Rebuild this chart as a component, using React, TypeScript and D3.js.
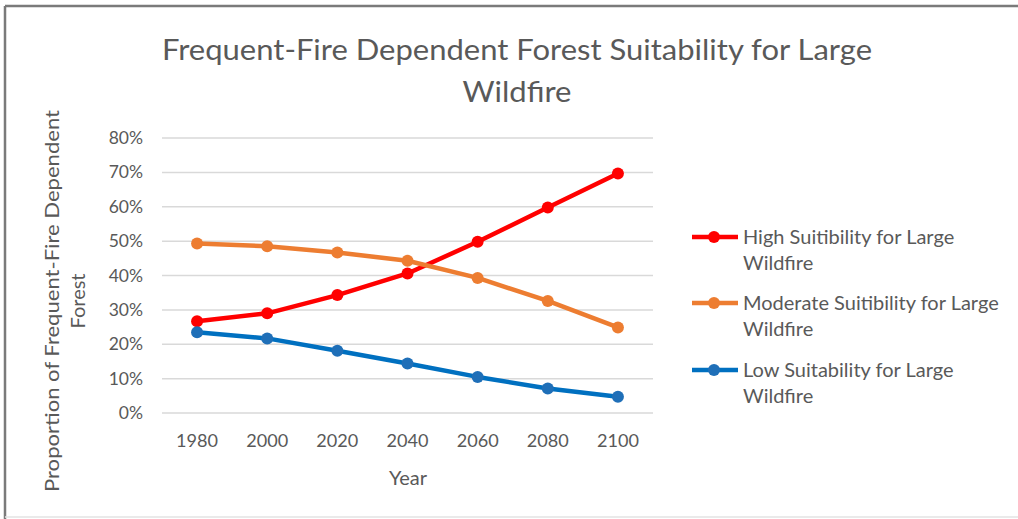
import React from "react";
import * as d3 from "d3";

const years = ["1980", "2000", "2020", "2040", "2060", "2080", "2100"];
const highValues = [0.267, 0.29, 0.343, 0.406, 0.498, 0.598, 0.697];
const moderateValues = [0.493, 0.485, 0.467, 0.443, 0.393, 0.326, 0.249];
const lowValues = [0.235, 0.217, 0.181, 0.144, 0.105, 0.071, 0.047];
const yTicks = [0, 0.1, 0.2, 0.3, 0.4, 0.5, 0.6, 0.7, 0.8];
const seriesNames = [
  ["High Suitibility for Large", "Wildfire"],
  ["Moderate Suitibility for Large", "Wildfire"],
  ["Low Suitability for Large", "Wildfire"],
];
const seriesColors = ["#FF0000", "#ED7D31", "#0070C0"];
const markerColors = ["#FF0000", "#ED7D31", "#1F6FB8"];

const W = 1018;
const H = 519;
const FONT = "Lato, 'Open Sans', sans-serif";
const TEXT = "#595959";

export default function App() {
  const x = d3.scaleBand().domain(years).range([162, 653]);
  const y = d3.scaleLinear().domain([0, 0.8]).range([413, 138]);
  const cx = (i: number) => (x(years[i]) as number) + x.bandwidth() / 2;
  const line = d3
    .line<number>()
    .x((_, i) => cx(i))
    .y((d) => y(d));
  const series = [highValues, moderateValues, lowValues];
  const legendY = [237, 303, 370];

  return (
    <svg
      width={W}
      height={H}
      style={{ position: "absolute", left: 0, top: 0, background: "#fff" }}
    >
      <rect x={0} y={0} width={W} height={H} fill="#fff" />
      <line x1={5} y1={6} x2={W} y2={6} stroke="#7a7a7a" strokeWidth={2.5} />
      <line x1={5} y1={6} x2={5} y2={H} stroke="#7a7a7a" strokeWidth={2.5} />
      <line x1={5} y1={517} x2={W} y2={517} stroke="#e3e3e3" strokeWidth={1.5} />

      <text
        x={517}
        y={60}
        textAnchor="middle"
        fontFamily={FONT}
        fontSize={28}
        fill={TEXT}
        textLength={710}
        lengthAdjust="spacingAndGlyphs"
      >
        Frequent-Fire Dependent Forest Suitability for Large
      </text>
      <text
        x={517}
        y={102}
        textAnchor="middle"
        fontFamily={FONT}
        fontSize={28}
        fill={TEXT}
        textLength={109}
        lengthAdjust="spacingAndGlyphs"
      >
        Wildfire
      </text>

      {yTicks.map((t) => (
        <g key={t}>
          <line x1={162} x2={653} y1={y(t)} y2={y(t)} stroke="#d9d9d9" strokeWidth={1.5} />
          <text
            x={143}
            y={y(t) + 6}
            textAnchor="end"
            fontFamily={FONT}
            fontSize={17.5}
            fill={TEXT}
          >
            {d3.format(".0%")(t)}
          </text>
        </g>
      ))}

      {years.map((yr, i) => (
        <text
          key={yr}
          x={cx(i)}
          y={447}
          textAnchor="middle"
          fontFamily={FONT}
          fontSize={17}
          fill={TEXT}
          textLength={42}
          lengthAdjust="spacingAndGlyphs"
        >
          {yr}
        </text>
      ))}
      <text x={408} y={485} textAnchor="middle" fontFamily={FONT} fontSize={20} fill={TEXT}>
        Year
      </text>
      <g transform="translate(0,301) rotate(-90)">
        <text
          x={0}
          y={59}
          textAnchor="middle"
          fontFamily={FONT}
          fontSize={20}
          fill={TEXT}
          textLength={382}
          lengthAdjust="spacingAndGlyphs"
        >
          Proportion of Frequent-Fire Dependent
        </text>
        <text x={0} y={85} textAnchor="middle" fontFamily={FONT} fontSize={20} fill={TEXT}>
          Forest
        </text>
      </g>

      {series.map((vals, si) => (
        <g key={si}>
          <path
            d={line(vals) || ""}
            fill="none"
            stroke={seriesColors[si]}
            strokeWidth={4.5}
            strokeLinejoin="round"
            strokeLinecap="round"
          />
          {vals.map((v, i) => (
            <circle key={i} cx={cx(i)} cy={y(v)} r={6} fill={markerColors[si]} />
          ))}
        </g>
      ))}

      {seriesNames.map((lines, si) => (
        <g key={si}>
          <line
            x1={692}
            x2={738}
            y1={legendY[si]}
            y2={legendY[si]}
            stroke={seriesColors[si]}
            strokeWidth={4.5}
          />
          <circle cx={714} cy={legendY[si]} r={6} fill={markerColors[si]} />
          <text x={743} y={legendY[si] + 7} fontFamily={FONT} fontSize={20} fill={TEXT}>
            {lines[0]}
          </text>
          <text x={743} y={legendY[si] + 33} fontFamily={FONT} fontSize={20} fill={TEXT}>
            {lines[1]}
          </text>
        </g>
      ))}
    </svg>
  );
}
